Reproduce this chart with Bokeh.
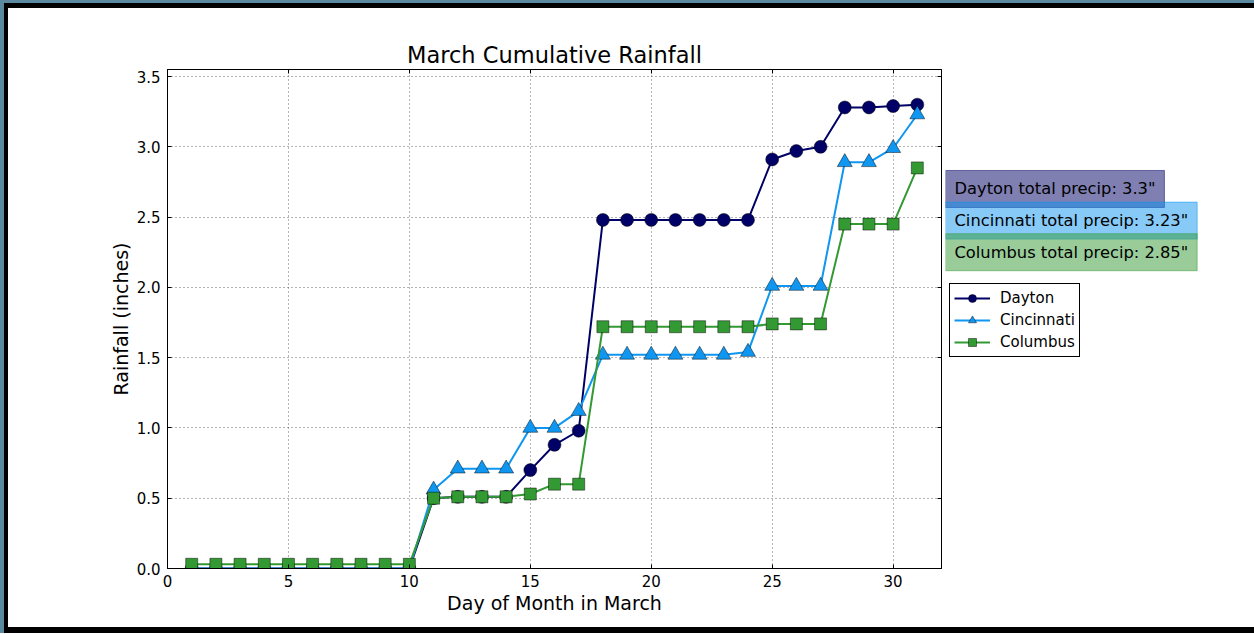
from bokeh.plotting import figure
from bokeh.layouts import row, column
from bokeh.models import (Range1d, SingleIntervalTicker, PrintfTickFormatter, Legend,
                          LegendItem, Label, LinearAxis)
from bokeh.embed import file_html
from bokeh.resources import INLINE

# ---- data ----
days = [1, 2, 3, 4, 5, 6, 7, 8, 9, 10, 11, 12, 13, 14, 15, 16, 17, 18, 19, 20,
        21, 22, 23, 24, 25, 26, 27, 28, 29, 30, 31]
dayton = [0.0, 0.0, 0.0, 0.0, 0.0, 0.0, 0.0, 0.0, 0.0, 0.0,
          0.50, 0.51, 0.51, 0.51, 0.70, 0.88, 0.98, 2.48, 2.48, 2.48, 2.48,
          2.48, 2.48, 2.48, 2.91, 2.97, 3.00, 3.28, 3.28, 3.29, 3.30]
cincinnati = [0.0, 0.0, 0.0, 0.0, 0.0, 0.0, 0.0, 0.0, 0.0, 0.0,
              0.56, 0.71, 0.71, 0.71, 1.00, 1.00, 1.12, 1.52, 1.52, 1.52, 1.52,
              1.52, 1.52, 1.54, 2.01, 2.01, 2.01, 2.89, 2.89, 2.99, 3.23]
columbus = [0.03, 0.03, 0.03, 0.03, 0.03, 0.03, 0.03, 0.03, 0.03, 0.03,
            0.50, 0.51, 0.51, 0.51, 0.53, 0.60, 0.60, 1.72, 1.72, 1.72, 1.72,
            1.72, 1.72, 1.72, 1.74, 1.74, 1.74, 2.45, 2.45, 2.45, 2.85]
cities = ["Dayton", "Cincinnati", "Columbus"]
series = [dayton, cincinnati, columbus]
title_text = "March Cumulative Rainfall"
x_label = "Day of Month in March"
y_label = "Rainfall (inches)"

# ---- styles ----
FONT = "DejaVu Sans"
colors = ["#000066", "#0f96f0", "#339933"]
markers = ["circle", "triangle", "square"]
msizes = [13, 15, 12]
label_y = [2.70, 2.475, 2.25]   # vertical placement of the total boxes (data units)

H = 619
PX_PER_DAY = 24.1875
yr = Range1d(0, 3.55)
p = figure(width=937, height=H, output_backend="svg", toolbar_location=None,
           x_range=Range1d(0, 32), y_range=yr,
           min_border_left=159, min_border_right=0, min_border_top=61,
           min_border_bottom=59)
p.background_fill_color = "white"
p.border_fill_color = "white"
p.outline_line_color = "black"
p.outline_line_width = 1

p.title.text = title_text
p.title.text_font = FONT
p.title.text_font_size = "22.5px"
p.title.text_font_style = "normal"
p.title.text_color = "black"
p.title.align = "center"
p.title.standoff = -5

xt = SingleIntervalTicker(interval=5)
yt = SingleIntervalTicker(interval=0.5)
p.xaxis.ticker = xt
p.yaxis.ticker = yt
p.yaxis.formatter = PrintfTickFormatter(format="%.1f")
p.xaxis.axis_label = x_label
p.yaxis.axis_label = y_label
for ax in (p.xaxis, p.yaxis):
    ax.axis_label_text_font = FONT
    ax.axis_label_text_font_size = "19px"
    ax.axis_label_text_font_style = "normal"
    ax.axis_label_text_color = "black"
    ax.major_label_text_font = FONT
    ax.major_label_text_font_size = "15px"
    ax.major_label_text_color = "black"
    ax.major_tick_in = 4
    ax.major_tick_out = 0
    ax.minor_tick_line_color = None
    ax.axis_line_color = "black"
    ax.major_tick_line_color = "black"
p.xaxis.major_label_standoff = 2
p.xaxis.axis_label_standoff = 2
p.yaxis.major_label_standoff = 3
p.yaxis.axis_label_standoff = 2

for loc, tk in (("above", xt), ("right", yt)):
    ax = LinearAxis(ticker=tk, major_tick_in=4, major_tick_out=0,
                    minor_tick_line_color=None, axis_line_color="black",
                    major_label_text_color=None, major_label_standoff=0)
    p.add_layout(ax, loc)

p.xgrid.grid_line_color = "#444444"
p.ygrid.grid_line_color = "#444444"
p.xgrid.grid_line_dash = "1 3"
p.ygrid.grid_line_dash = "1 3"
p.xgrid.grid_line_alpha = 0.8
p.ygrid.grid_line_alpha = 0.8


def draw_series(fig):
    out = []
    for name, vals, c, m, s in zip(cities, series, colors, markers, msizes):
        r1 = fig.line(days, vals, line_color=c, line_width=2)
        r2 = fig.scatter(days, vals, marker=m, size=s, fill_color=c,
                         line_color="black", line_alpha=0.45, line_width=1)
        out.append((name, r1, r2))
    return out


draw_series(p)

# ---- side panel (outside the axes box) holding totals and the legend ----
side_w = 309
x0 = 32 + 4 / PX_PER_DAY
q = figure(width=side_w, height=H, output_backend="svg", toolbar_location=None,
           x_range=Range1d(x0, x0 + side_w / PX_PER_DAY), y_range=yr,
           x_axis_type=None, y_axis_type=None,
           min_border_left=0, min_border_right=0, min_border_top=61,
           min_border_bottom=59)
q.outline_line_color = None
q.background_fill_color = "white"
q.border_fill_color = "white"
q.xgrid.visible = False
q.ygrid.visible = False

# same series in the side panel (they fall outside its visible x range) feed the legend
proxies = draw_series(q)
items = [LegendItem(label=n, renderers=[a, b]) for n, a, b in proxies]

for name, vals, c, ly in zip(cities, series, colors, label_y):
    lab = Label(x=x0, y=ly, text=f'{name} total precip: {vals[-1]:g}"',
                text_font=FONT, text_font_size="16.3px", text_color="black",
                text_align="left", text_baseline="middle",
                background_fill_color=c, background_fill_alpha=0.5,
                border_line_color=c, border_line_alpha=0.5, border_line_width=1,
                padding=9)
    q.add_layout(lab)

legend = Legend(items=items, location=(4, 211))
legend.label_text_font = FONT
legend.label_text_font_size = "15px"
legend.label_text_color = "black"
legend.border_line_color = "black"
legend.border_line_width = 1
legend.border_line_alpha = 1
legend.background_fill_color = "white"
legend.background_fill_alpha = 1
legend.padding = 4
legend.spacing = 2
legend.margin = 0
legend.glyph_width = 36
legend.glyph_height = 20
legend.label_standoff = 10
q.add_layout(legend, "center")

inner = row(p, q, spacing=0,
            styles={"border-left": "4px solid black", "border-top": "5px solid black",
                    "border-bottom": "6px solid black"})
layout = column(inner, spacing=0,
                styles={"border-left": "4px solid #5b8aa0", "border-top": "3px solid #5b8aa0"})
open("out.html", "w").write(file_html(layout, INLINE))
